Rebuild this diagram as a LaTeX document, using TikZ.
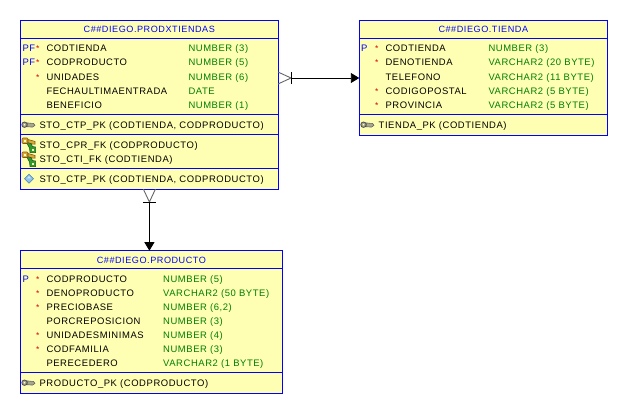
\documentclass[tikz,border=0pt]{standalone}
\usepackage{fontspec}
\setmainfont[LetterSpace=6]{Liberation Sans}
\usetikzlibrary{arrows.meta}
\definecolor{boxfill}{HTML}{FFFFB4}
\definecolor{boxblue}{HTML}{0000FF}
\definecolor{typegreen}{HTML}{007F00}
\definecolor{starred}{HTML}{E00000}
\definecolor{keygold}{HTML}{DDA832}
\definecolor{keygreen}{HTML}{2E9A2E}
\definecolor{keygrey}{HTML}{A8A890}
\definecolor{diamondfill}{HTML}{8FC4EC}
\definecolor{diamondline}{HTML}{4A7FB0}
\tikzset{
  tablebox/.style={draw=boxblue,fill=boxfill,line width=1pt,inner sep=0pt,outer sep=0pt,anchor=north west},
  sepline/.style={draw=boxblue,line width=1pt},
  txt/.style={inner sep=0pt,outer sep=0pt,anchor=base west,font=\fontsize{9.45}{11}\selectfont},
  colname/.style={txt,text=black},
  coltype/.style={txt,text=typegreen},
  flagtxt/.style={txt,text=boxblue},
  startxt/.style={txt,text=starred,font=\fontsize{8.5}{10}\selectfont},
  titletxt/.style={txt,anchor=base,text=boxblue,font=\fontsize{9.1}{11}\selectfont},
  idxtxt/.style={txt,text=black},
  link/.style={draw=black,line width=.9pt,-{Triangle[length=8.5pt,width=10pt]}},
  crow/.style={draw=black!60,line width=.9pt},
  crowbar/.style={draw=black,line width=.9pt},
  pkkey/.pic={
    \draw[draw=black!60,fill=keygrey,line width=.6pt] (-1.5,-1.8) -- (5,-1.2) -- (6.5,.6) -- (4,2.4) -- (-1.5,2) -- cycle;
    \draw[draw=black!70,fill=keygrey,line width=.8pt] (-4,0) ellipse (2.7pt and 2.7pt);
    \fill[boxfill] (-4,0) circle (.8pt);
  },
  fkkey/.pic={
    \draw[draw=black!45!keygold,fill=keygold,line width=.6pt,rounded corners=1pt] (-7,-7) rectangle (-1,-1.5);
    \fill[boxfill] (-5,-5.2) rectangle (-3.2,-3.5);
    \draw[draw=black!45!keygold,fill=keygold,line width=.6pt] (-1,-5.5) -- (6,-3.6) -- (6,-.8) -- (3,-1) -- (-1,-2.5) -- cycle;
    \draw[draw=black!45!keygreen,fill=keygreen,line width=.5pt] (-2,-1.5) -- (2,-1.5) -- (3.5,1.5) -- (6.5,2) -- (6.5,7.5) -- (1,7.5) -- (.5,3) -- cycle;
    \fill[boxfill] (3,4) rectangle (4.6,5.6);
  },
  idxdiamond/.pic={
    \draw[draw=diamondline,fill=diamondfill,line width=.6pt] (-4.5,0) -- (0,-4.5) -- (4.5,0) -- (0,4.5) -- cycle;
    \fill[white,opacity=.6] (-2,-.3) -- (0,-2.6) -- (2,-.3) -- cycle;
  },
}
\newcommand{\colrow}[7]{% id, y, x name, flag x, flag, star x or none, name
  \node[flagtxt] (#1f) at (#4,#2) {#5};
  \ifx\relax#6\relax\else\node[startxt] (#1s) at (#6,#2) {*};\fi
  \node[colname] (#1n) at (#3,#2) {#7};
}
\begin{document}
\begin{tikzpicture}[x=1pt,y=-1pt]
\useasboundingbox (0,0) rectangle (618,404);
\fill[white] (0,0) rectangle (618,404);

% PRODXTIENDAS
\node[tablebox,minimum width=257.6pt,minimum height=169pt] (prod) at (20.4,20.2) {};
\draw[sepline] (prod.west |- 0,38.2) -- (prod.east |- 0,38.2);
\draw[sepline] (prod.west |- 0,114.4) -- (prod.east |- 0,114.4);
\draw[sepline] (prod.west |- 0,134.4) -- (prod.east |- 0,134.4);
\draw[sepline] (prod.west |- 0,168.4) -- (prod.east |- 0,168.4);
\node[titletxt] (prodt) at (149.3,33) {C\#\#DIEGO.PRODXTIENDAS};
\colrow{pa}{52}{46.5}{22.5}{PF}{36}{CODTIENDA}
\node[coltype] (pat) at (188.5,52) {NUMBER (3)};
\colrow{pb}{66}{46.5}{22.5}{PF}{36}{CODPRODUCTO}
\node[coltype] (pbt) at (188.5,66) {NUMBER (5)};
\colrow{pc}{80}{46.5}{22.5}{}{36}{UNIDADES}
\node[coltype] (pct) at (188.5,80) {NUMBER (6)};
\colrow{pd}{94}{46.5}{22.5}{}{}{FECHAULTIMAENTRADA}
\node[coltype] (pdt) at (188.5,94) {DATE};
\colrow{pe}{108}{46.5}{22.5}{}{}{BENEFICIO}
\node[coltype] (pet) at (188.5,108) {NUMBER (1)};
\pic at (28.5,124.7) {pkkey};
\node[idxtxt] (pi1) at (39.6,128) {STO\_CTP\_PK (CODTIENDA, CODPRODUCTO)};
\pic at (29,145) {fkkey};
\node[idxtxt] (pi2) at (39.6,148) {STO\_CPR\_FK (CODPRODUCTO)};
\pic at (29,159) {fkkey};
\node[idxtxt] (pi3) at (39.6,162) {STO\_CTI\_FK (CODTIENDA)};
\pic at (29,178.7) {idxdiamond};
\node[idxtxt] (pi4) at (39.6,182) {STO\_CTP\_PK (CODTIENDA, CODPRODUCTO)};

% TIENDA
\node[tablebox,minimum width=248pt,minimum height=115pt] (tienda) at (359.3,20.2) {};
\draw[sepline] (tienda.west |- 0,38.2) -- (tienda.east |- 0,38.2);
\draw[sepline] (tienda.west |- 0,114.4) -- (tienda.east |- 0,114.4);
\node[titletxt] (tiendat) at (483.3,33) {C\#\#DIEGO.TIENDA};
\colrow{ta}{52}{385.6}{361}{P}{375}{CODTIENDA}
\node[coltype] (tat) at (488.5,52) {NUMBER (3)};
\colrow{tb}{66}{385.6}{361}{}{375}{DENOTIENDA}
\node[coltype] (tbt) at (488.5,66) {VARCHAR2 (20 BYTE)};
\colrow{tc}{80}{385.6}{361}{}{}{TELEFONO}
\node[coltype] (tct) at (488.5,80) {VARCHAR2 (11 BYTE)};
\colrow{td}{94}{385.6}{361}{}{375}{CODIGOPOSTAL}
\node[coltype] (tdt) at (488.5,94) {VARCHAR2 (5 BYTE)};
\colrow{te}{108}{385.6}{361}{}{375}{PROVINCIA}
\node[coltype] (tet) at (488.5,108) {VARCHAR2 (5 BYTE)};
\pic at (367.5,124.7) {pkkey};
\node[idxtxt] (ti1) at (378.7,128) {TIENDA\_PK (CODTIENDA)};

% PRODUCTO
\node[tablebox,minimum width=262pt,minimum height=142.6pt] (producto) at (20.4,250.7) {};
\draw[sepline] (producto.west |- 0,268.4) -- (producto.east |- 0,268.4);
\draw[sepline] (producto.west |- 0,372.4) -- (producto.east |- 0,372.4);
\node[titletxt] (productot) at (151.4,263.5) {C\#\#DIEGO.PRODUCTO};
\colrow{ra}{282}{46.5}{22.5}{P}{36}{CODPRODUCTO}
\node[coltype] (rat) at (163.2,282) {NUMBER (5)};
\colrow{rb}{296}{46.5}{22.5}{}{36}{DENOPRODUCTO}
\node[coltype] (rbt) at (163.2,296) {VARCHAR2 (50 BYTE)};
\colrow{rc}{310}{46.5}{22.5}{}{36}{PRECIOBASE}
\node[coltype] (rct) at (163.2,310) {NUMBER (6,2)};
\colrow{rd}{324}{46.5}{22.5}{}{}{PORCREPOSICION}
\node[coltype] (rdt) at (163.2,324) {NUMBER (3)};
\colrow{re}{338}{46.5}{22.5}{}{36}{UNIDADESMINIMAS}
\node[coltype] (ret) at (163.2,338) {NUMBER (4)};
\colrow{rf}{352}{46.5}{22.5}{}{36}{CODFAMILIA}
\node[coltype] (rft) at (163.2,352) {NUMBER (3)};
\colrow{rg}{366}{46.5}{22.5}{}{}{PERECEDERO}
\node[coltype] (rgt) at (163.2,366) {VARCHAR2 (1 BYTE)};
\pic at (28.5,382.7) {pkkey};
\node[idxtxt] (ri1) at (39.6,386) {PRODUCTO\_PK (CODPRODUCTO)};

% connectors
\coordinate (hfoot) at (291,78);
\coordinate (vfoot) at (149.4,202);
\draw[link] (hfoot) -- (tienda.west |- hfoot);
\draw[link] (vfoot) -- (producto.north -| vfoot);
\draw[crow] ([yshift=-6pt]prod.east |- hfoot) -- (hfoot) -- ([yshift=6pt]prod.east |- hfoot);
\draw[crowbar] ([yshift=-6pt]hfoot) -- ([yshift=6pt]hfoot);
\draw[crow] ([xshift=-6pt]prod.south -| vfoot) -- (vfoot) -- ([xshift=6pt]prod.south -| vfoot);
\draw[crowbar] ([xshift=-6.5pt]vfoot) -- ([xshift=6.5pt]vfoot);
\end{tikzpicture}
\end{document}
